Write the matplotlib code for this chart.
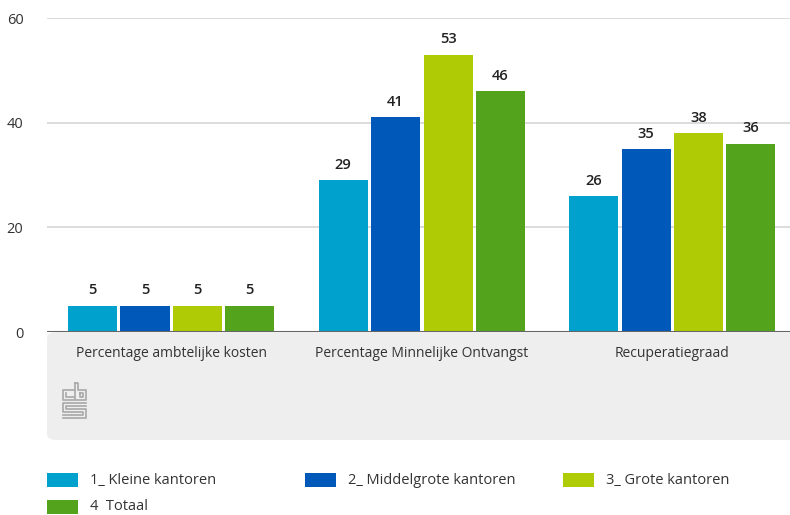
import numpy as np
import matplotlib.pyplot as plt
from matplotlib.patches import FancyBboxPatch, Rectangle
from matplotlib.lines import Line2D

categories = ["Percentage ambtelijke kosten", "Percentage Minnelijke Ontvangst", "Recuperatiegraad"]
series = ["1_ Kleine kantoren", "2_ Middelgrote kantoren", "3_ Grote kantoren", "4  Totaal"]
kleine = [5, 29, 26]
middel = [5, 41, 35]
grote = [5, 53, 38]
totaal = [5, 46, 36]
values = [kleine, middel, grote, totaal]
colors = ["#00a1cd", "#0058b8", "#afcb05", "#53a31d"]
yticks = [0, 20, 40, 60]

plt.rcParams["font.family"] = ["Open Sans", "DejaVu Sans"]

fig = plt.figure(figsize=(7.9, 5.15), dpi=100)
W, H = 790, 515


def px(xp, yp):
    # pixel position (from top-left) to figure fraction
    return xp / W, (H - yp) / H


# grey panel below the axis
panel = FancyBboxPatch(px(47, 440), (W + 20 - 47) / W, (440 - 332) / H,
                       boxstyle="round,pad=0,rounding_size=0.012", transform=fig.transFigure,
                       facecolor="#eeeeee", edgecolor="none", zorder=-1)
fig.patches.append(panel)

ax = fig.add_axes([47 / W, (H - 332) / H, 1 - 47 / W, (332 - 18) / H])
ax.set_facecolor("none")

x = np.arange(len(categories))
offsets = [-0.3135, -0.104, 0.1055, 0.3135]
width = 0.196
for vals, off, col, name in zip(values, offsets, colors, series):
    bars = ax.bar(x + off, vals, width, color=col, label=name, zorder=2)
    for b, v in zip(bars, vals):
        ax.annotate(str(v), (b.get_x() + b.get_width() / 2, v), xytext=(0, 6),
                    textcoords="offset points", ha="center", va="bottom",
                    fontsize=10.5, fontweight="semibold", color="#222222")

ax.set_xlim(-0.495, 2.47)
ax.set_ylim(0, 60)
ax.set_yticks(yticks)
ax.tick_params(axis="y", length=0, pad=17, labelsize=10.5, labelcolor="#333333")
ax.set_xticks([])
ax.grid(axis="y", color="#d6d6d6", linewidth=1.2, zorder=0)
for s in ax.spines.values():
    s.set_visible(False)
ax.axhline(0, color="#666666", linewidth=2.2, zorder=3)

for xi, cat in zip(x, categories):
    ax.text(xi, -4.1, cat, ha="center", va="center", fontsize=10, color="#333333")

# cbs logo (rough outline drawing)
logo = [
    [(74, 390), (63, 390), (63, 400), (74, 400)],
    [(66, 393), (66, 397), (74, 397)],
    [(75, 383), (75, 400), (86, 400), (86, 390), (78, 390), (78, 383), (75, 383)],
    [(80, 393), (83, 393), (83, 397), (80, 397), (80, 393)],
    [(86, 403), (63, 403), (63, 412), (83, 412), (83, 415), (63, 415)],
    [(86, 406), (66, 406), (66, 409), (86, 409), (86, 418), (63, 418)],
]
for pts in logo:
    xs, ys = zip(*[px(a, b) for a, b in pts])
    fig.lines.append(Line2D(xs, ys, transform=fig.transFigure, color="#a8a8a8", linewidth=1.2))

# legend
leg_rows = [480, 507]
leg_cols = [47, 305, 563]
for i, (name, col) in enumerate(zip(series, colors)):
    r, c = divmod(i, 3)
    lx, ly = px(leg_cols[c], leg_rows[r])
    fig.patches.append(Rectangle((lx, ly - 7 / H), 31 / W, 14 / H,
                                 transform=fig.transFigure, facecolor=col, edgecolor="none"))
    fig.text((leg_cols[c] + 43) / W, ly, name, fontsize=10.5, color="#333333", va="center")

fig.savefig("out.png", dpi=100)
